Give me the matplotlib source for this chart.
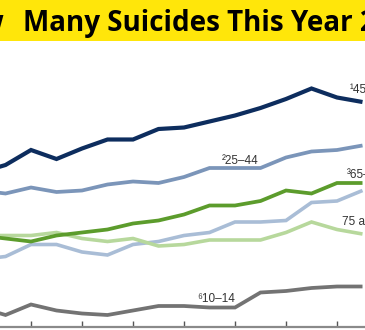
import matplotlib
matplotlib.use("Agg")
import matplotlib.pyplot as plt
from matplotlib.patches import Rectangle

# ---- data (rates) ----
years = list(range(1999, 2015))
age_45_64 = [10.3, 10.8, 11.8, 11.2, 11.9, 12.5, 12.5, 13.2, 13.3, 13.7, 14.1, 14.6, 15.2, 15.9, 15.3, 15.0]
age_25_44 = [9.1, 8.9, 9.3, 9.0, 9.1, 9.5, 9.7, 9.6, 10.0, 10.6, 10.6, 10.6, 11.3, 11.7, 11.8, 12.1]
age_65_74 = [6.1, 5.9, 5.7, 6.1, 6.3, 6.5, 6.9, 7.1, 7.5, 8.1, 8.1, 8.4, 9.1, 8.9, 9.6, 9.6]
age_15_24 = [4.5, 4.7, 5.5, 5.5, 5.0, 4.8, 5.5, 5.7, 6.1, 6.3, 7.0, 7.0, 7.1, 8.3, 8.4, 9.1]
age_75_up = [6.1, 6.1, 6.1, 6.3, 5.9, 5.7, 5.9, 5.4, 5.5, 5.8, 5.8, 5.8, 6.3, 7.0, 6.5, 6.2]
age_10_14 = [1.3, 0.8, 1.5, 1.1, 0.9, 0.8, 1.1, 1.4, 1.4, 1.3, 1.3, 2.3, 2.4, 2.6, 2.7, 2.7]
tick_years = [2001, 2003, 2005, 2007, 2009, 2011, 2013]
title_head = "How"
title_rest = "Many Suicides This Year 2023?"

W, H = 365, 330
fig = plt.figure(figsize=(W / 100, H / 100), dpi=100)
ax = fig.add_axes([0, 3 / H, 1, 327 / H])

series = [
    (age_15_24, "#a9bdd6", 2.6),
    (age_75_up, "#b7d89c", 2.6),
    (age_65_74, "#5c9c2c", 2.7),
    (age_25_44, "#7b95b9", 2.7),
    (age_45_64, "#0d2d5e", 3.0),
    (age_10_14, "#737373", 2.7),
]
for vals, col, lw in series:
    ax.plot(years, vals, color=col, lw=lw, solid_joinstyle="miter", solid_capstyle="butt")

ax.set_xlim(1999.784, 2014.098)
ax.set_ylim(0, 21.8)
for s in ["top", "left", "right"]:
    ax.spines[s].set_visible(False)
ax.spines["bottom"].set_color("#8a8a8a")
ax.spines["bottom"].set_linewidth(1.6)
ax.set_yticks([])
ax.set_xticks(tick_years)
ax.tick_params(axis="x", direction="in", length=4.5, width=1.0, color="#555555",
               labelbottom=False)
ax.patch.set_alpha(0)

# direct labels (pixel positions -> axes fractions)
lab_font = dict(family=["Liberation Sans", "DejaVu Sans"], fontsize=8.5, color="#333333",
                va="center", ha="left")
def lab(txt, px, py):
    ax.text(px / W, (327 - py) / 327, txt, transform=ax.transAxes, **lab_font)

lab("\u00b945\u201364", 350, 90)
lab("\u00b225\u201344", 222, 161)
lab("\u00b365\u201374", 347, 175)
lab("75 and over", 342, 222)
lab("\u207610\u201314", 197, 299)

# yellow banner with title
fig.patches.append(Rectangle((0, 1 - 41 / H), 1, 41 / H, transform=fig.transFigure,
                             facecolor="#ffe60a", edgecolor="none", zorder=0))
tfont = dict(family=["Open Sans", "DejaVu Sans"], fontweight="bold", fontsize=20, color="black")
fig.text(4 / W, 1 - 31 / H, title_head, va="baseline", ha="right", **tfont)
fig.text(23 / W, 1 - 31 / H, title_rest, va="baseline", ha="left", **tfont)

fig.savefig("out.png", dpi=100)
